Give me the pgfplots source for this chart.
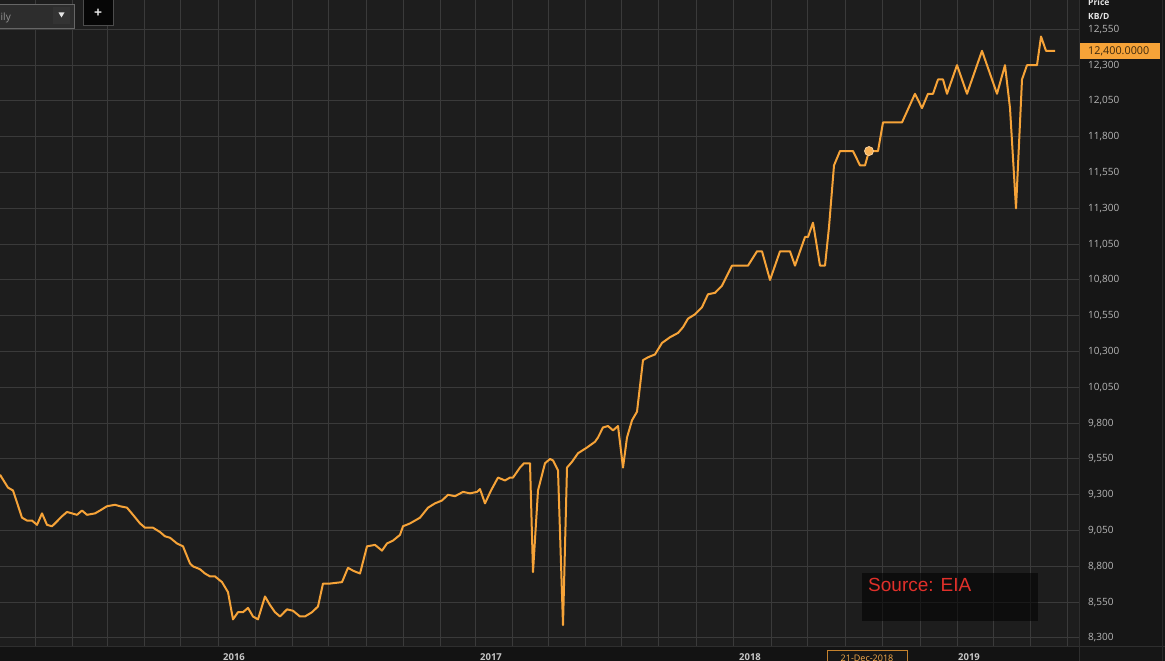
\documentclass[border=0pt]{standalone}
\usepackage{fontspec}
\setmainfont{Open Sans}
\newfontfamily\arialfont{Liberation Sans}
\usepackage{pgfplots}
\pgfplotsset{compat=1.18}

\definecolor{bgplot}{HTML}{1D1D1D}
\definecolor{bgside}{HTML}{161616}
\definecolor{gridgray}{HTML}{3A3A3A}
\definecolor{tickgray}{HTML}{B8B8B8}
\definecolor{oil}{HTML}{F6A338}
\definecolor{srcred}{HTML}{E0302A}

\begin{document}
\begin{tikzpicture}[x=1pt,y=1pt]
\useasboundingbox (0,0) rectangle (1165,661);
\fill[bgside] (0,0) rectangle (1165,661);

\begin{axis}[
    at={(0pt,14pt)}, anchor=south west,
    scale only axis, width=1079pt, height=647pt,
    xmin=0, xmax=1079, ymin=8237, ymax=12755,
    axis background/.style={fill=bgplot},
    axis line style={draw=none},
    major tick length=0pt, minor tick length=0pt,
    xtick={234,491,750,969},
    xticklabels={},
    minor xtick={35,72,107,144,180,218,255,292,328,366,403,440,475,512,548,585,621,658,696,733,771,807,845,882,920,957,993,1030,1067},
    xmajorgrids=false, xminorgrids=true, ymajorgrids=true,
    grid style={draw=gridgray, line width=1pt},
    minor grid style={draw=gridgray, line width=1pt},
    ytick={8300,8550,...,12550},
    scaled y ticks=false,
    yticklabel pos=right, ytick pos=right,
    /pgf/number format/assume math mode=true,
    y tick label style={/pgf/number format/1000 sep={,}, /pgf/number format/fixed,
        anchor=west, inner sep=0pt, xshift=9pt,
        font=\fontsize{10}{12}\selectfont, text=tickgray},
]
\addplot[oil, line width=2pt, line join=round] coordinates {
(0,9440) (8,9350) (13,9330) (22,9140) (27,9120) (32,9120) (37,9090) (42,9170)
(47,9090) (52,9080) (55,9100) (62,9150) (67,9180) (72,9170) (77,9160) (82,9190)
(87,9160) (95,9170) (100,9190) (107,9220) (115,9230) (120,9220) (127,9210) (133,9160)
(140,9100) (145,9070) (153,9070) (160,9040) (165,9010) (170,9000) (177,8960) (183,8940)
(190,8820) (193,8800) (200,8780) (205,8750) (210,8730) (215,8730) (222,8690) (228,8620)
(233,8430) (238,8480) (243,8480) (248,8510) (253,8450) (258,8430) (265,8590) (270,8530)
(275,8480) (280,8450) (287,8500) (293,8490) (300,8450) (305,8450) (312,8480) (318,8520)
(323,8680) (330,8680) (342,8690) (348,8790) (353,8770) (360,8750) (367,8940) (375,8950)
(382,8910) (387,8960) (393,8980) (400,9020) (403,9080) (410,9100) (420,9140) (428,9210)
(435,9240) (442,9260) (448,9300) (455,9290) (463,9320) (470,9310) (477,9320) (480,9340)
(485,9240) (491,9330) (498,9420) (505,9400) (510,9420) (513,9420) (520,9490) (524,9520)
(530,9520) (533,8760) (538,9330) (545,9520) (550,9550) (553,9540) (558,9470) (563,8390)
(567,9490) (572,9530) (578,9590) (587,9630) (595,9670) (598,9700) (603,9770) (608,9780)
(613,9750) (618,9780) (623,9490) (627,9700) (632,9820) (637,9880) (643,10240) (648,10260)
(655,10280) (662,10360) (670,10400) (678,10430) (683,10470) (688,10530) (695,10560) (702,10610)
(708,10700) (715,10710) (722,10760) (732,10900) (740,10900) (748,10900) (757,11000) (762,11000)
(770,10800) (780,11000) (790,11000) (795,10900) (805,11100) (808,11100) (813,11200) (820,10900)
(825,10900) (829,11170) (834,11600) (840,11700) (853,11700) (860,11600) (865,11600) (869,11700)
(878,11700) (883,11900) (902,11900) (915,12100) (922,12000) (928,12100) (933,12100) (938,12200)
(943,12200) (947,12100) (957,12300) (967,12100) (982,12400) (997,12100) (1005,12300) (1010,12000)
(1016,11300) (1022,12200) (1027,12300) (1037,12300) (1041,12500) (1046,12400) (1055,12400)
};
\addplot[only marks, mark=*, mark size=4.5pt,
    mark options={fill=oil!85!white, draw=oil!50!white, line width=0.8pt}]
    coordinates {(869,11700)};
\end{axis}

% bottom band and right edge
\fill[bgside!85!black] (0,0) rectangle (1079,14);
\draw[gridgray!80!black, line width=1pt] (0,14) -- (1165,14);
\draw[gridgray!80!black, line width=1pt] (1079,0) -- (1079,661);
\draw[gridgray!70!black, line width=0.8pt] (1162,0) -- (1162,661);
\foreach \xx/\yy in {234/2016,491/2017,750/2018,969/2019}
  \node[anchor=north, inner sep=0pt, font=\fontsize{9.5}{10}\selectfont\bfseries, text=tickgray!80!white]
    at (\xx,7.5) {\yy};

% hovered date
\draw[draw=oil!80!black, fill=bgside, line width=0.8pt] (827,-2) rectangle (907,11);
\node[anchor=north, inner sep=0pt, font=\fontsize{9}{10}\selectfont, text=oil!90!white] at (867,6.5) {21-Dec-2018};

% last price label
\fill[oil] (1080,602) rectangle (1160,618);
\node[anchor=west, inner sep=0pt, font=\fontsize{10.8}{12}\selectfont, text=black!75!oil] at (1088,610) {12,400.0000};

% header
\node[anchor=base west, inner sep=0pt, font=\fontsize{8.5}{10}\selectfont\bfseries, text=white!90!black] at (1088,655.5) {Price};
\node[anchor=base west, inner sep=0pt, font=\fontsize{8.5}{10}\selectfont\bfseries, text=white!90!black] at (1088,641) {KB/D};

% toolbar
\draw[draw=black!60, fill=bgside!90!white, line width=1pt] (-2,632) rectangle (74,656);
\node[anchor=base east, inner sep=0pt, font=\fontsize{10}{12}\selectfont, text=tickgray!80!black] at (11,640) {Daily};
\fill[black!80] (53,637) rectangle (70,654);
\fill[white!90!black] (58.5,648.5) -- (64.5,648.5) -- (61.5,643.5) -- cycle;
\draw[draw=black!70, fill=bgplot!110!white, line width=1pt] (83,635) rectangle (113,662);
\node[inner sep=0pt, font=\fontsize{14}{14}\selectfont\bfseries, text=white!90!black] at (98,648) {+};

% source box
\fill[black, opacity=0.55] (862,40) rectangle (1038,88);
\node[anchor=base west, inner sep=0pt, font=\arialfont\fontsize{19}{22}\selectfont, text=srcred] at (868,69) {Source: EIA};
\end{tikzpicture}
\end{document}
